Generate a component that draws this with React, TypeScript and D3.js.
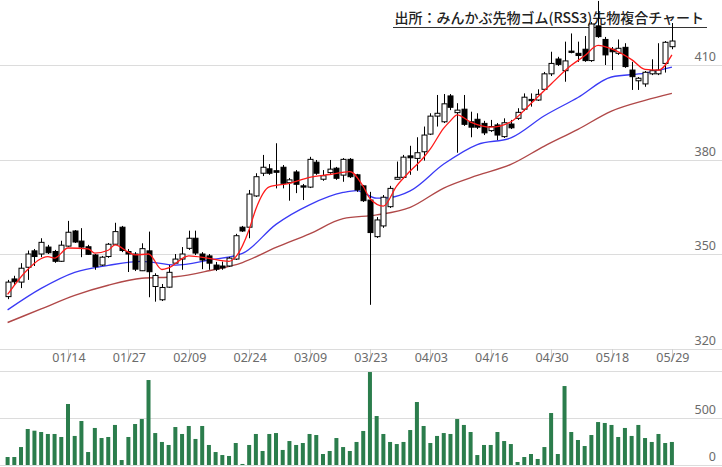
import { useEffect, useRef } from 'react';
import * as d3 from 'd3';

// daily OHLC (100 sessions, 01/01 .. 05/29)
const opens = [
  336.6, 342.2, 341.2, 345.9, 351.1, 350.1, 352.3, 350.9, 347.8, 352.6,
  357.4, 354.2, 352.4, 349.8, 346.6, 349.3, 353.2, 358.6, 350.9, 350.1,
  344.8, 351.1, 339.8, 335.6, 339.6, 347.2, 348.5, 351.9, 355.1, 350.1,
  349.5, 346.6, 346.3, 346.3, 348.5, 358.6, 358.6, 368.5, 375.7, 377.1,
  376.5, 377.6, 372.7, 376.1, 371.7, 371.3, 379.2, 373.8, 375.9, 377.3,
  375.1, 380.1, 375.2, 371.7, 367.2, 355.6, 359.0, 365.1, 373.8, 374.4,
  381.2, 380.4, 382.5, 388.1, 393.8, 392.0, 400.2, 394.9, 396.0, 392.0,
  392.8, 391.5, 389.2, 391.0, 387.3, 391.3, 393.1, 396.0, 399.1, 398.9,
  402.3, 407.2, 411.9, 408.2, 414.4, 413.7, 415.0, 411.4, 422.4, 418.1,
  415.0, 413.7, 415.6, 408.4, 405.0, 404.0, 407.2, 407.2, 410.5, 415.8,
];
const highs = [
  341.9, 343.2, 347.2, 351.2, 351.7, 355.1, 353.0, 351.4, 354.3, 360.6,
  357.7, 358.3, 353.0, 350.1, 349.5, 353.6, 360.0, 359.0, 351.7, 350.7,
  353.5, 357.2, 344.0, 340.6, 346.6, 350.1, 352.3, 357.5, 357.5, 350.7,
  350.1, 347.6, 347.7, 349.2, 356.5, 359.0, 370.4, 375.7, 381.5, 378.6,
  385.2, 378.3, 374.2, 376.7, 372.3, 380.9, 379.9, 376.7, 379.9, 377.7,
  380.5, 380.5, 375.5, 372.0, 369.8, 361.8, 368.8, 371.7, 379.4, 381.5,
  384.4, 387.1, 390.5, 394.7, 400.5, 400.8, 400.8, 397.9, 400.5, 395.2,
  394.7, 392.3, 392.6, 391.6, 393.1, 392.6, 396.3, 401.0, 401.0, 402.3,
  407.8, 414.2, 412.6, 417.4, 420.0, 417.4, 419.2, 423.6, 430.3, 418.9,
  415.7, 418.1, 416.9, 411.0, 406.2, 408.1, 411.8, 416.9, 417.6, 423.3,
];
const lows = [
  335.8, 340.3, 339.3, 341.9, 346.3, 349.1, 350.1, 347.3, 347.6, 352.4,
  353.6, 349.1, 349.8, 345.1, 346.3, 348.9, 353.0, 350.7, 344.4, 344.7,
  344.7, 336.4, 335.0, 335.2, 339.4, 347.0, 345.1, 351.4, 349.8, 345.3,
  345.1, 344.7, 345.1, 346.0, 348.2, 357.1, 355.1, 368.2, 374.8, 375.2,
  370.9, 370.9, 367.0, 369.4, 367.2, 371.0, 375.2, 373.3, 375.5, 373.6,
  373.0, 374.2, 369.8, 366.6, 334.0, 355.2, 358.4, 364.7, 373.6, 373.9,
  375.2, 376.5, 379.7, 387.8, 390.5, 391.6, 395.7, 382.2, 390.7, 387.1,
  389.7, 387.8, 388.8, 386.2, 386.9, 389.7, 392.6, 395.4, 396.8, 398.6,
  401.8, 406.5, 409.7, 404.7, 413.7, 411.0, 411.0, 411.0, 418.6, 410.0,
  408.4, 413.2, 409.1, 402.1, 402.1, 403.1, 406.8, 406.8, 407.6, 415.0,
];
const closes = [
  341.2, 341.3, 345.6, 350.1, 349.3, 353.8, 350.5, 347.8, 352.9, 357.0,
  353.9, 352.3, 350.0, 346.1, 349.1, 353.2, 357.2, 351.2, 350.1, 345.3,
  351.8, 344.5, 343.3, 339.5, 344.3, 348.5, 350.1, 355.1, 350.4, 348.2,
  347.2, 345.3, 345.7, 348.8, 355.9, 357.4, 369.1, 374.6, 377.6, 375.7,
  376.0, 372.5, 373.6, 372.2, 371.3, 380.1, 375.7, 374.9, 377.0, 374.1,
  380.1, 374.6, 370.4, 367.0, 356.9, 360.9, 368.1, 370.9, 374.4, 380.8,
  380.6, 382.2, 387.8, 393.8, 394.7, 397.7, 396.6, 395.7, 391.2, 390.3,
  390.3, 388.5, 390.5, 387.8, 391.7, 390.1, 395.0, 399.8, 398.7, 400.7,
  407.2, 410.5, 410.2, 411.3, 414.0, 413.0, 411.4, 423.0, 419.0, 413.2,
  414.2, 415.3, 409.5, 406.3, 405.8, 407.7, 408.2, 408.4, 417.2, 417.6,
];
const volumes = [
  85, 85, 191, 383, 365, 351, 330, 330, 298, 649,
  309, 468, 138, 394, 287, 298, 426, 53, 298, 436,
  489, 904, 340, 245, 213, 404, 330, 415, 277, 415,
  213, 138, 106, 96, 234, 11, 213, 330, 149, 330,
  340, 160, 255, 213, 234, 330, 319, 117, 149, 287,
  191, 149, 245, 362, 989, 521, 330, 245, 223, 245,
  372, 670, 415, 234, 309, 340, 330, 489, 426, 351,
  106, 213, 213, 351, 255, 223, 32, 85, 117, 64,
  191, 553, 117, 840, 351, 266, 202, 319, 457, 447,
  426, 298, 394, 309, 426, 287, 245, 330, 234, 245,
];

// moving averages, sampled off the chart at these session indices
const maShortIdx = [0, 3, 6, 7, 9, 12, 13, 15, 16, 18, 19, 21, 23, 24, 27, 30, 33, 34, 36, 37, 39, 42, 45, 48, 51, 53, 54, 56, 58, 60, 62, 63, 65, 66, 67, 69, 72, 75, 78, 81, 84, 86, 88, 90, 93, 95, 97, 99];
const maShort = [337.3, 345.2, 349.3, 348.8, 352.0, 351.7, 350.4, 351.3, 353.0, 350.7, 349.8, 350.1, 345.2, 345.7, 349.5, 348.7, 347.8, 349.2, 357.9, 364.4, 371.4, 372.5, 374.4, 375.3, 376.2, 371.5, 367.7, 365.3, 371.7, 376.4, 380.7, 383.4, 390.0, 392.3, 394.2, 391.9, 390.3, 392.0, 397.8, 404.0, 409.9, 412.9, 416.2, 415.1, 411.7, 408.6, 408.4, 413.2];
const maMidIdx = [0, 5, 10, 15, 20, 25, 30, 35, 40, 45, 50, 52, 55, 57, 60, 65, 70, 75, 80, 85, 90, 95, 99];
const maMid = [332.4, 339.2, 344.3, 346.5, 347.8, 346.6, 348.2, 350.3, 359.5, 365.7, 369.6, 370.2, 367.8, 368.0, 370.1, 378.6, 384.8, 386.9, 393.9, 399.7, 406.2, 407.4, 409.3];
const maLongIdx = [0, 5, 10, 15, 20, 25, 30, 35, 40, 45, 50, 55, 60, 65, 70, 75, 80, 85, 90, 95, 99];
const maLong = [328.4, 332.7, 337.0, 340.2, 342.4, 342.9, 344.8, 347.4, 352.2, 356.5, 361.3, 362.5, 364.9, 371.0, 375.0, 378.5, 384.3, 389.6, 395.4, 398.8, 401.0];

const tickIdx = [9, 18, 27, 36, 45, 54, 63, 72, 81, 90, 99];
const tickLabels = ['01/14', '01/27', '02/09', '02/24', '03/09', '03/23', '04/03', '04/16', '04/30', '05/18', '05/29'];
const priceTicks = [320, 350, 380, 410];
const volumeTicks = [0, 500, 1000];
const volumeLabels = [0, 500];

const title = '出所：みんかぶ先物ゴム(RSS3)先物複合チャート';

export default function App() {
  const svgRef = useRef<SVGSVGElement>(null);

  useEffect(() => {
    if (!svgRef.current) return;
    const svg = d3.select(svgRef.current);
    svg.selectAll('*').remove();

    const width = 722;
    const height = 467;
    const n = closes.length;

    const x = d3.scaleBand<number>()
      .domain(d3.range(n))
      .range([4.25, 675.25])
      .padding(0);
    const cx = (i: number) => (x(i) as number) + x.step() / 2;

    const y = d3.scaleLinear().domain([320, 410]).range([349, 65]);
    const yv = d3.scaleLinear().domain([0, 1000]).range([465, 371]);

    const font = '"Noto Sans", "Open Sans", sans-serif';

    // grid
    svg.append('g')
      .selectAll('line')
      .data(priceTicks)
      .join('line')
      .attr('x1', 0).attr('x2', width)
      .attr('y1', d => Math.round(y(d)) + 0.5)
      .attr('y2', d => Math.round(y(d)) + 0.5)
      .attr('stroke', '#dcdcdc');

    svg.append('g')
      .selectAll('line')
      .data(volumeTicks)
      .join('line')
      .attr('x1', 0).attr('x2', width)
      .attr('y1', d => Math.round(yv(d)) + 0.5)
      .attr('y2', d => Math.round(yv(d)) + 0.5)
      .attr('stroke', '#dcdcdc');

    // price labels
    svg.append('g')
      .attr('font-family', font)
      .attr('font-size', 12.5)
      .attr('fill', '#6b6b6b')
      .attr('text-anchor', 'end')
      .selectAll('text')
      .data(priceTicks)
      .join('text')
      .attr('x', 716)
      .attr('y', d => y(d) - 4)
      .text(d => d);

    svg.append('g')
      .attr('font-family', font)
      .attr('font-size', 12.5)
      .attr('fill', '#6b6b6b')
      .attr('text-anchor', 'end')
      .selectAll('text')
      .data(volumeLabels)
      .join('text')
      .attr('x', 716)
      .attr('y', d => yv(d) - 4)
      .text(d => d);

    // date ticks
    const xt = svg.append('g');
    xt.selectAll('line')
      .data(tickIdx)
      .join('line')
      .attr('x1', d => Math.round(cx(d)) + 0.5)
      .attr('x2', d => Math.round(cx(d)) + 0.5)
      .attr('y1', 349)
      .attr('y2', 361)
      .attr('stroke', '#cfcfcf');
    xt.selectAll('text')
      .data(tickIdx)
      .join('text')
      .attr('x', d => cx(d) + 1)
      .attr('y', 362)
      .attr('text-anchor', 'middle')
      .attr('font-family', font)
      .attr('font-size', 12.5)
      .attr('fill', '#6b6b6b')
      .text((_, k) => tickLabels[k]);

    // title
    svg.append('text')
      .attr('x', 704)
      .attr('y', 23)
      .attr('text-anchor', 'end')
      .attr('font-family', '"Noto Sans CJK JP", sans-serif')
      .attr('font-size', 14)
      .attr('font-weight', 500)
      .attr('fill', '#222')
      .text(title);
    svg.append('line')
      .attr('x1', 393).attr('x2', 707)
      .attr('y1', 27.5).attr('y2', 27.5)
      .attr('stroke', '#333');

    // volume bars
    svg.append('g')
      .selectAll('rect')
      .data(volumes)
      .join('rect')
      .attr('x', (_, i) => cx(i) - 2)
      .attr('width', 4)
      .attr('y', d => yv(d))
      .attr('height', d => yv(0) - yv(d))
      .attr('fill', '#2b7d4c');

    // moving averages
    const ma = (idx: number[], vals: number[], color: string, w: number) => {
      const line = d3.line<number>()
        .x((_, k) => cx(idx[k]))
        .y(d => y(d))
        .curve(d3.curveMonotoneX);
      svg.append('path')
        .datum(vals)
        .attr('d', line)
        .attr('fill', 'none')
        .attr('stroke', color)
        .attr('stroke-width', w);
    };
    ma(maLongIdx, maLong, '#b04848', 1.4);
    ma(maMidIdx, maMid, '#3a3af5', 1.3);

    // candles
    const g = svg.append('g');
    g.selectAll('line')
      .data(closes)
      .join('line')
      .attr('x1', (_, i) => Math.round(cx(i)) + 0.5)
      .attr('x2', (_, i) => Math.round(cx(i)) + 0.5)
      .attr('y1', (_, i) => y(highs[i]))
      .attr('y2', (_, i) => y(lows[i]))
      .attr('stroke', '#000');
    g.selectAll('rect')
      .data(closes)
      .join('rect')
      .attr('x', (_, i) => Math.round(cx(i)) - 2)
      .attr('width', 5)
      .attr('y', (c, i) => y(Math.max(c, opens[i])))
      .attr('height', (c, i) => Math.max(1, Math.abs(y(c) - y(opens[i]))))
      .attr('fill', (c, i) => (c >= opens[i] ? '#fff' : '#000'))
      .attr('stroke', '#000')
      .attr('stroke-width', 1);

    ma(maShortIdx, maShort, '#ff1a1a', 1.3);
  }, []);

  return (
    <svg
      ref={svgRef}
      width={722}
      height={467}
      style={{ position: 'absolute', left: 0, top: 0, background: '#fff' }}
    />
  );
}
